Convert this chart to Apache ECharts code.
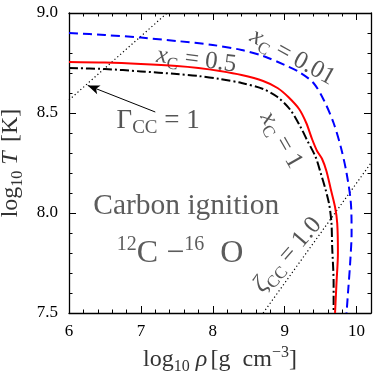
<!DOCTYPE html>
<html>
<head>
<meta charset="utf-8">
<script src="https://cdn.jsdelivr.net/npm/echarts@6/dist/echarts.min.js"></script>
<style>
  html, body { margin: 0; padding: 0; background: #fff; }
  #chart { width: 375px; height: 381px; }
</style>
</head>
<body>
<div id="chart"></div>
<script>
// ignition curves, [log10 rho, log10 T]
const xC001 = [
  [6.0, 8.90], [6.5, 8.89], [7.0, 8.877], [7.5, 8.86], [8.0, 8.84], [8.4, 8.815],
  [8.7, 8.785], [9.0, 8.74], [9.2, 8.705], [9.4, 8.65], [9.55, 8.56], [9.68, 8.45],
  [9.78, 8.33], [9.86, 8.2], [9.92, 8.05], [9.93, 7.9], [9.91, 7.75], [9.88, 7.6], [9.86, 7.5]
]
const xC05 = [
  [6.0, 8.755], [6.5, 8.752], [7.0, 8.745], [7.5, 8.735], [7.8, 8.725], [8.1, 8.71],
  [8.4, 8.69], [8.7, 8.66], [8.9, 8.625], [9.05, 8.58], [9.2, 8.52], [9.3, 8.45],
  [9.38, 8.37], [9.45, 8.31], [9.52, 8.27], [9.58, 8.21], [9.64, 8.12], [9.7, 8.03],
  [9.73, 7.95], [9.74, 7.8], [9.72, 7.65], [9.70, 7.5]
]
const xC1 = [
  [6.0, 8.725], [6.5, 8.72], [7.0, 8.708], [7.5, 8.695], [7.8, 8.685], [8.1, 8.67],
  [8.4, 8.65], [8.7, 8.62], [8.9, 8.58], [9.08, 8.515], [9.22, 8.43], [9.31, 8.365],
  [9.43, 8.28], [9.5, 8.2], [9.57, 8.115], [9.62, 8.04], [9.65, 7.95], [9.66, 7.83],
  [9.68, 7.65], [9.68, 7.5]
]
// Gamma_CC = 1 and zeta_CC = 1.0 lines
const gammaLine = [[6.0, 8.565], [7.365, 9.0]]
const zetaLine = [[8.7, 7.5], [10.2, 8.25]]
const arrowFrom = [7.2, 8.505]
const arrowTo = [6.26, 8.638]

const xTickValues = [6, 7, 8, 9, 10]
const yTickValues = [7.5, 8.0, 8.5, 9.0]

// text labels: [x, y] anchor, rotation in degrees
const curveLabels = [
  { text: '{i|x}{s|C}{r| = 0.01}', at: [9.11, 8.78], rotate: -29 },
  { text: '{i|x}{s|C}{r| = 0.5}', at: [7.77, 8.765], rotate: -7 },
  { text: '{i|x}{s|C}{r| = 1}', at: [8.95, 8.365], rotate: -60 },
  { text: '{g|Γ}{t|CC}{g| = 1}', at: [7.24, 8.46], rotate: 0 },
  { text: '{i|ζ}{s|CC}{r| = 1.0}', at: [9.04, 7.79], rotate: 49 },
  { text: '{b|Carbon ignition}', at: [7.63, 8.035], rotate: 0 },
  { text: '{p|12}{c|C −}{p|16}{c|  O}', at: [7.545, 7.795], rotate: 0 }
]

const serif = '"Liberation Serif", "DejaVu Serif", serif'
const ink = '#2a2a2a'

const chart = echarts.init(document.getElementById('chart'))

const frame = { show: true, onZero: false, lineStyle: { color: '#000', width: 1.3 } }
const majorTick = { show: true, inside: true, length: 7, lineStyle: { color: '#000', width: 1 } }
const minorTickStyle = { show: true, inside: true, length: 3.5, lineStyle: { color: '#000', width: 1 } }

const richText = {
  r: { fontFamily: serif, fontSize: 25, lineHeight: 32, color: ink },
  i: { fontFamily: serif, fontSize: 25, lineHeight: 32, fontStyle: 'italic', color: ink },
  s: { fontFamily: serif, fontSize: 17, lineHeight: 17, verticalAlign: 'bottom', color: ink },
  g: { fontFamily: serif, fontSize: 27, lineHeight: 34, color: ink },
  t: { fontFamily: serif, fontSize: 19, lineHeight: 19, verticalAlign: 'bottom', color: ink },
  b: { fontFamily: serif, fontSize: 29.5, lineHeight: 36, color: '#333' },
  c: { fontFamily: serif, fontSize: 32, lineHeight: 38, color: '#333' },
  p: { fontFamily: serif, fontSize: 20, lineHeight: 20, verticalAlign: 'top', color: '#333' }
}

const titleRich = {
  r: { fontFamily: serif, fontSize: 24, lineHeight: 30, color: '#333' },
  i: { fontFamily: serif, fontSize: 24, lineHeight: 30, fontStyle: 'italic', color: '#333' },
  s: { fontFamily: serif, fontSize: 16, lineHeight: 16, verticalAlign: 'bottom', color: '#333' },
  p: { fontFamily: serif, fontSize: 16, lineHeight: 16, verticalAlign: 'top', color: '#333' }
}

const tickRich = { n: { fontFamily: serif, fontSize: 17, color: '#000' } }

function minorX(position) {
  return {
    type: 'value', position, min: 6, max: 10.2, interval: 0.2,
    axisLine: { show: false }, axisTick: minorTickStyle,
    axisLabel: { show: false }, splitLine: { show: false }
  }
}

const option = {
  animation: false,
  backgroundColor: '#fff',
  grid: { left: 69, right: 4, top: 13, bottom: 68, containLabel: false, outerBoundsMode: 'none' },
  xAxis: [
    {
      type: 'value', position: 'bottom', min: 6, max: 10.2, interval: 1,
      axisLine: frame, axisTick: majorTick, splitLine: { show: false },
      axisLabel: {
        customValues: xTickValues, margin: 10,
        formatter: v => '{n|' + v + '}', rich: tickRich
      },
      name: '{r|log}{s|10}{i| ρ} {r|[g  cm}{p|−3}{r|]}',
      nameLocation: 'middle', nameGap: 30,
      nameTextStyle: { rich: titleRich }
    },
    minorX('bottom'),
    {
      type: 'value', position: 'top', min: 6, max: 10.2, interval: 1,
      axisLine: frame, axisTick: majorTick, axisLabel: { show: false }, splitLine: { show: false }
    },
    minorX('top')
  ],
  yAxis: [
    {
      type: 'value', position: 'left', min: 7.5, max: 9.0, interval: 0.5,
      axisLine: frame, axisTick: majorTick, splitLine: { show: false },
      minorTick: Object.assign({ splitNumber: 5 }, minorTickStyle),
      axisLabel: {
        customValues: yTickValues, margin: 11,
        formatter: v => '{n|' + v.toFixed(1) + '}', rich: tickRich
      },
      name: '{r|log}{s|10}{i| T} {r| [K]}',
      nameLocation: 'middle', nameGap: 40,
      nameTextStyle: { rich: titleRich }
    },
    {
      type: 'value', position: 'right', min: 7.5, max: 9.0, interval: 0.5,
      axisLine: frame, axisTick: majorTick, splitLine: { show: false },
      minorTick: Object.assign({ splitNumber: 5 }, minorTickStyle),
      axisLabel: { show: false }
    }
  ],
  series: [
    {
      name: 'gamma', type: 'line', data: gammaLine, showSymbol: false, silent: true,
      lineStyle: { color: '#000', width: 1.2, type: [1.2, 2.6] },
      markLine: {
        silent: true, symbol: ['none', 'arrow'], symbolSize: [7, 12],
        label: { show: false },
        lineStyle: { color: '#000', width: 1, type: 'solid' },
        data: [[{ coord: arrowFrom }, { coord: arrowTo }]]
      }
    },
    {
      name: 'zeta', type: 'line', data: zetaLine, showSymbol: false, silent: true,
      lineStyle: { color: '#000', width: 1.2, type: [1.2, 2.6] }
    },
    {
      name: 'xC=0.01', type: 'line', data: xC001, showSymbol: false, smooth: 0.3,
      lineStyle: { color: '#0000ff', width: 2, type: [9, 5] }
    },
    {
      name: 'xC=1', type: 'line', data: xC1, showSymbol: false, smooth: 0.3,
      lineStyle: { color: '#000', width: 2, type: [9, 3, 2, 3] }
    },
    {
      name: 'xC=0.5', type: 'line', data: xC05, showSymbol: false, smooth: 0.3,
      lineStyle: { color: '#ff0000', width: 2 }
    },
    {
      name: 'labels', type: 'scatter', symbolSize: 1, silent: true,
      itemStyle: { color: 'rgba(0,0,0,0)' },
      data: curveLabels.map(l => ({
        value: l.at,
        label: { show: true, position: 'inside', formatter: l.text, rotate: l.rotate, rich: richText }
      }))
    }
  ]
}

chart.setOption(option)
</script>
</body>
</html>
